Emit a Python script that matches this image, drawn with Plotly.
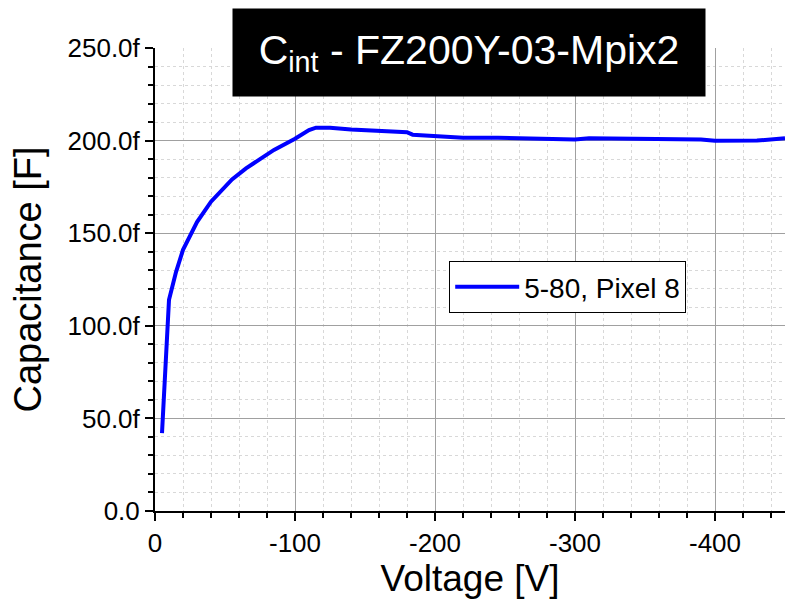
import plotly.graph_objects as go

voltage = [-5, -10, -15, -20, -30, -40, -55, -65, -75, -85, -100, -110, -115, -125, -140, -160,
           -175, -180, -184, -200, -220, -245, -270, -300, -310, -330, -360, -390, -400, -430, -450]
capacitance_fF = [42, 114, 129, 141, 156, 167, 179, 185, 190, 195, 201, 205.7, 207, 207, 206, 205,
                  204.5, 204.5, 203.2, 202.7, 201.6, 201.5, 201, 200.6, 201.3, 201, 200.6, 200.6,
                  199.9, 200, 201.3]
series_name = "5-80, Pixel 8"

x_tickvals = [0, -100, -200, -300, -400]
x_ticktext = ["0", "-100", "-200", "-300", "-400"]
y_tickvals = [0, 50, 100, 150, 200, 250]
y_ticktext = ["0.0", "50.0f", "100.0f", "150.0f", "200.0f", "250.0f"]

FONT = "Liberation Sans, Arial, sans-serif"

fig = go.Figure()
fig.add_trace(go.Scatter(x=voltage, y=capacitance_fF, mode="lines", name=series_name,
                         line=dict(color="#0000ff", width=4)))

fig.update_layout(
    width=785, height=604,
    margin=dict(l=155, r=0, t=48, b=93),
    paper_bgcolor="white", plot_bgcolor="white",
    font=dict(family=FONT, color="black"),
    showlegend=True,
    legend=dict(x=0.467, y=0.540, xanchor="left", yanchor="top",
                bordercolor="black", borderwidth=1, bgcolor="white",
                itemwidth=64, font=dict(size=28, family=FONT)),
    xaxis=dict(range=[0, -450], tickvals=x_tickvals, ticktext=x_ticktext,
               showline=True, linecolor="black", linewidth=2, mirror=False,
               ticks="outside", ticklen=8, tickwidth=2, tickcolor="black",
               tickfont=dict(size=26), showgrid=True, gridcolor="#a0a0a0", gridwidth=1,
               zeroline=False,
               minor=dict(dtick=20, tick0=0, ticks="outside", ticklen=5, tickwidth=2, tickcolor="black",
                          showgrid=True, gridcolor="#d8d8d8", griddash="dot", gridwidth=1),
               title=dict(text="Voltage [V]", font=dict(size=37), standoff=8)),
    yaxis=dict(range=[0, 250], tickvals=y_tickvals, ticktext=y_ticktext,
               showline=True, linecolor="black", linewidth=2,
               ticks="outside", ticklen=8, tickwidth=2, tickcolor="black",
               tickfont=dict(size=26), showgrid=True, gridcolor="#a0a0a0", gridwidth=1,
               zeroline=False,
               minor=dict(dtick=10, tick0=0, ticks="outside", ticklen=5, tickwidth=2, tickcolor="black",
                          showgrid=True, gridcolor="#d8d8d8", griddash="dot", gridwidth=1),
               title=dict(text="Capacitance [F]", font=dict(size=38), standoff=14)),
)

fig.add_annotation(xref="paper", yref="paper", x=0.498, y=0.99, xanchor="center", yanchor="middle",
                   text="C<sub>int</sub> - FZ200Y-03-Mpix2", showarrow=False,
                   font=dict(size=41, color="white", family=FONT),
                   bgcolor="black", width=470, height=85, align="center")

fig.write_html("out.html")
